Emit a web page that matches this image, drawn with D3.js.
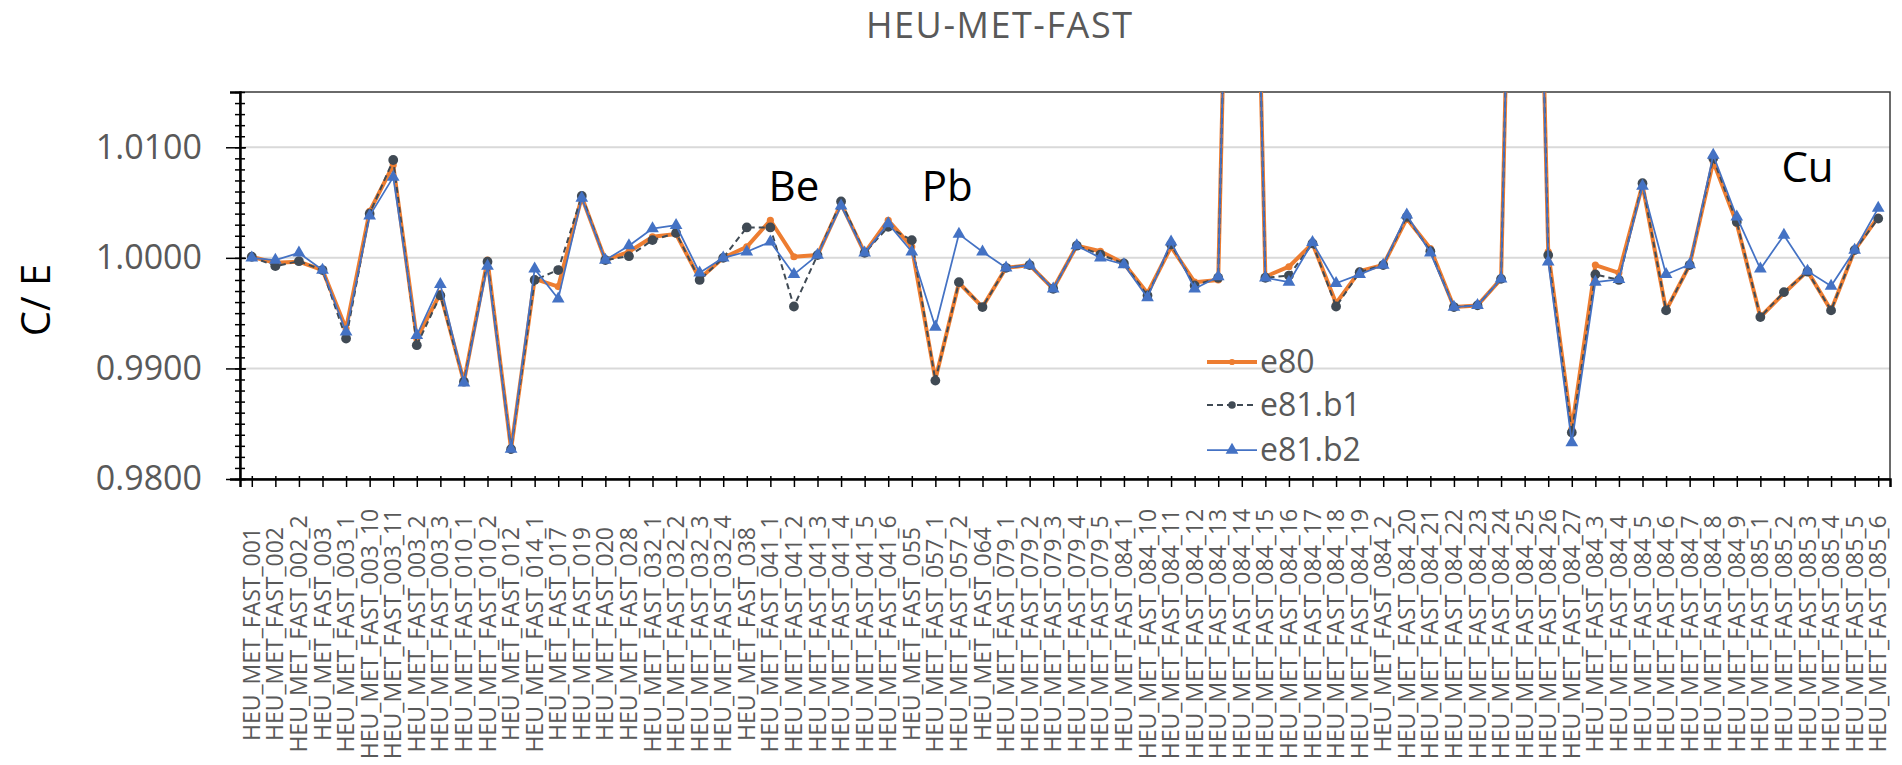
<!DOCTYPE html>
<html>
<head>
<meta charset="utf-8">
<script src="https://cdn.jsdelivr.net/npm/d3@7"></script>
<style>
  body { margin: 0; background: #fff; }
  text { font-family: "Open Sans", sans-serif; }
</style>
</head>
<body>
<svg id="chart" width="1902" height="765"></svg>
<script>
// categories on the x axis
var cases = ["001","002","002_2","003","003_1","003_10","003_11","003_2","003_3","010_1",
  "010_2","012","014_1","017","019","020","028","032_1","032_2","032_3",
  "032_4","038","041_1","041_2","041_3","041_4","041_5","041_6","055","057_1",
  "057_2","064","079_1","079_2","079_3","079_4","079_5","084_1","084_10","084_11",
  "084_12","084_13","084_14","084_15","084_16","084_17","084_18","084_19","084_2","084_20",
  "084_21","084_22","084_23","084_24","084_25","084_26","084_27","084_3","084_4","084_5",
  "084_6","084_7","084_8","084_9","085_1","085_2","085_3","085_4","085_5","085_6"];
var categories = cases.map(function (c) { return "HEU_MET_FAST_" + c; });

// C/E values, one per category
var e80 = [1.0001,0.99955,0.99965,0.9989,0.9936,1.0042,1.0084,0.9927,0.9968,0.9888,
  0.9998,0.9827,0.9981,0.9974,1.0055,0.9998,1.00055,1.0019,1.00215,0.9981,
  1.0000,1.0010,1.0034,1.0001,1.00025,1.0049,1.00045,1.0034,1.0010,0.9890,
  0.99775,0.99555,0.9991,0.99935,0.9972,1.0011,1.0006,0.9995,0.9968,1.0010,
  0.9978,0.9980,1.09,0.9983,0.9992,1.0013,0.9959,0.9988,0.99935,1.00355,
  1.00085,0.99555,0.9957,0.9981,1.09,1.00055,0.9845,0.99935,0.99865,1.0066,
  0.99525,0.99935,1.0087,1.0031,0.99465,0.9968,0.9988,0.99525,1.0007,1.0037];
var e81b1 = [1.0001,0.99925,0.9997,0.9989,0.9927,1.0040,1.00885,0.9921,0.9966,0.9888,
  0.99965,0.9827,0.9980,0.9989,1.0056,0.9998,1.00015,1.0016,1.00225,0.9980,
  1.0000,1.00275,1.00275,0.9956,1.00025,1.0051,1.00045,1.0028,1.0016,0.9889,
  0.9978,0.99555,0.9991,0.99935,0.9972,1.0011,1.0003,0.9995,0.9966,1.0012,
  0.9975,0.9982,1.09,0.9982,0.9984,1.0013,0.9956,0.9987,0.99935,1.0037,
  1.0006,0.99555,0.9957,0.9981,1.09,1.00025,0.9842,0.9985,0.9980,1.00675,
  0.99525,0.99935,1.0090,1.00325,0.99465,0.9969,0.99875,0.99525,1.0007,1.00355];
var e81b2 = [1.0000,0.9998,1.00045,0.9989,0.9933,1.0038,1.0073,0.9930,0.9976,0.9887,
  0.99925,0.9827,0.9990,0.9963,1.0054,0.9998,1.0011,1.00265,1.00295,0.99865,
  1.0000,1.00055,1.00145,0.9985,1.00025,1.0047,1.00045,1.0031,1.00055,0.99375,
  1.00215,1.00055,0.9991,0.99935,0.9972,1.0011,1.0000,0.9994,0.9964,1.00145,
  0.9972,0.9983,1.09,0.9982,0.9978,1.0014,0.9977,0.9985,0.99935,1.0039,
  1.00045,0.99555,0.9957,0.9981,1.09,0.99965,0.9833,0.9978,0.99805,1.0065,
  0.9985,0.9994,1.0093,1.0037,0.9990,1.00205,0.9988,0.99745,1.0007,1.0045];

var yTicks = [0.98, 0.99, 1.00, 1.01];

// element notes written on the chart (placed over the named cases)
var notes = [
  {text: "Be", cats: ["HEU_MET_FAST_041_2"], v: 1.0051},
  {text: "Pb", cats: ["HEU_MET_FAST_057_1", "HEU_MET_FAST_057_2"], v: 1.0051},
  {text: "Cu", cats: ["HEU_MET_FAST_085_3"], v: 1.0069}
];

var series = [
  {name: "e80", values: e80, color: "#ED7D31", width: 4, dash: null, marker: "dot"},
  {name: "e81.b1", values: e81b1, color: "#404A54", width: 2, dash: "6,4", marker: "circle"},
  {name: "e81.b2", values: e81b2, color: "#4472C4", width: 1.75, dash: null, marker: "triangle"}
];

var svg = d3.select("#chart");
var margin = {top: 92, right: 12, bottom: 286, left: 240};
var width = 1902 - margin.left - margin.right,
    height = 765 - margin.top - margin.bottom;

var x = d3.scalePoint().domain(categories).range([0, width]).padding(0.5);
var y = d3.scaleLinear().domain([0.98, 1.015]).range([height, 0]);

var g = svg.append("g").attr("transform", "translate(" + margin.left + "," + margin.top + ")");

// title
svg.append("text")
   .attr("x", 999).attr("y", 38)
   .attr("text-anchor", "middle")
   .attr("font-size", 36)
   .attr("fill", "#595959")
   .attr("textLength", 266)
   .text("HEU-MET-FAST");

// gridlines
g.append("g").selectAll("line")
 .data(yTicks.slice(1))
 .join("line")
 .attr("x1", 0).attr("x2", width)
 .attr("y1", function (d) { return y(d); })
 .attr("y2", function (d) { return y(d); })
 .attr("stroke", "#d9d9d9")
 .attr("stroke-width", 2);

// plot frame
g.append("rect")
 .attr("width", width).attr("height", height)
 .attr("fill", "none")
 .attr("stroke", "#3a3a3a")
 .attr("stroke-width", 1.5);

// y axis: minor ticks every 0.001, labelled majors
var yMinor = g.append("g")
  .call(d3.axisLeft(y).ticks(35).tickSize(5).tickFormat(""));
yMinor.select(".domain").remove();
yMinor.selectAll(".tick line").attr("x2", 5).attr("x1", -5).attr("stroke", "#000").attr("stroke-width", 1.5);

var yAxis = g.append("g")
  .call(d3.axisLeft(y).tickValues(yTicks).tickSize(10).tickPadding(28).tickFormat(d3.format(".4f")));
yAxis.select(".domain").attr("stroke", "#000").attr("stroke-width", 2.5);
yAxis.selectAll(".tick line").attr("x2", 6).attr("x1", -14).attr("stroke", "#000").attr("stroke-width", 1.5);
yAxis.selectAll(".tick text")
     .attr("font-size", 34).attr("fill", "#595959")
     .attr("font-family", "Open Sans, sans-serif");

// y axis title
svg.append("text")
   .attr("transform", "translate(50,300) rotate(-90)")
   .attr("text-anchor", "middle")
   .attr("font-size", 40)
   .attr("fill", "#000")
   .text("C/ E");

// x axis
var xAxis = g.append("g")
  .attr("transform", "translate(0," + height + ")")
  .call(d3.axisBottom(x).tickSize(8).tickFormat(""));
xAxis.select(".domain").attr("stroke", "#000").attr("stroke-width", 2.5);
xAxis.selectAll(".tick line").attr("y1", -3).attr("stroke", "#000").attr("stroke-width", 1.5);

g.append("g").selectAll("text")
 .data(categories)
 .join("text")
 .attr("transform", function (d) {
   return "translate(" + (x(d) + 8) + "," + (634 - margin.top) + ") rotate(-90)";
 })
 .attr("text-anchor", "middle")
 .attr("font-size", 23)
 .attr("fill", "#595959")
 .text(function (d) { return d; });

// lines and markers, clipped to the plot area
g.append("defs").append("clipPath")
 .attr("id", "clip")
 .append("rect")
 .attr("x", -8).attr("y", 0)
 .attr("width", width + 16).attr("height", height);

var line = d3.line()
  .x(function (d, i) { return x(categories[i]); })
  .y(function (d) { return y(d); });

var tri = d3.symbol().type(d3.symbolTriangle).size(70);

var plot = g.append("g").attr("clip-path", "url(#clip)");

series.forEach(function (s) {
  plot.append("path")
      .datum(s.values)
      .attr("fill", "none")
      .attr("stroke", s.color)
      .attr("stroke-width", s.width)
      .attr("stroke-dasharray", s.dash)
      .attr("stroke-linejoin", "round")
      .attr("d", line);

  var m = plot.append("g").selectAll("path")
    .data(s.values)
    .join("path")
    .attr("fill", s.color)
    .attr("transform", function (d, i) {
      return "translate(" + x(categories[i]) + "," + y(d) + ")";
    });
  if (s.marker === "triangle") m.attr("d", tri);
  else m.attr("d", d3.symbol().type(d3.symbolCircle).size(s.marker === "dot" ? 40 : 75));
});

// element notes
g.append("g").selectAll("text")
 .data(notes)
 .join("text")
 .attr("x", function (d) { return d3.mean(d.cats, function (c) { return x(c); }); })
 .attr("y", function (d) { return y(d.v); })
 .attr("text-anchor", "middle")
 .attr("font-size", 42)
 .attr("fill", "#000")
 .text(function (d) { return d.text; });

// legend
var legend = svg.append("g").attr("transform", "translate(1207,362)");
var item = legend.selectAll("g")
  .data(series)
  .join("g")
  .attr("transform", function (d, i) { return "translate(0," + [0, 43, 88][i] + ")"; });

item.append("line")
    .attr("x1", 0).attr("x2", 50)
    .attr("stroke", function (d) { return d.color; })
    .attr("stroke-width", function (d) { return d.width; })
    .attr("stroke-dasharray", function (d) { return d.dash; });
item.append("path")
    .attr("transform", "translate(25,0)")
    .attr("fill", function (d) { return d.color; })
    .attr("d", function (d) {
      if (d.marker === "triangle") return tri();
      return d3.symbol().type(d3.symbolCircle).size(d.marker === "dot" ? 30 : 45)();
    });
item.append("text")
    .attr("x", 53).attr("y", 11)
    .attr("font-size", 32)
    .attr("fill", "#595959")
    .text(function (d) { return d.name; });
</script>
</body>
</html>
